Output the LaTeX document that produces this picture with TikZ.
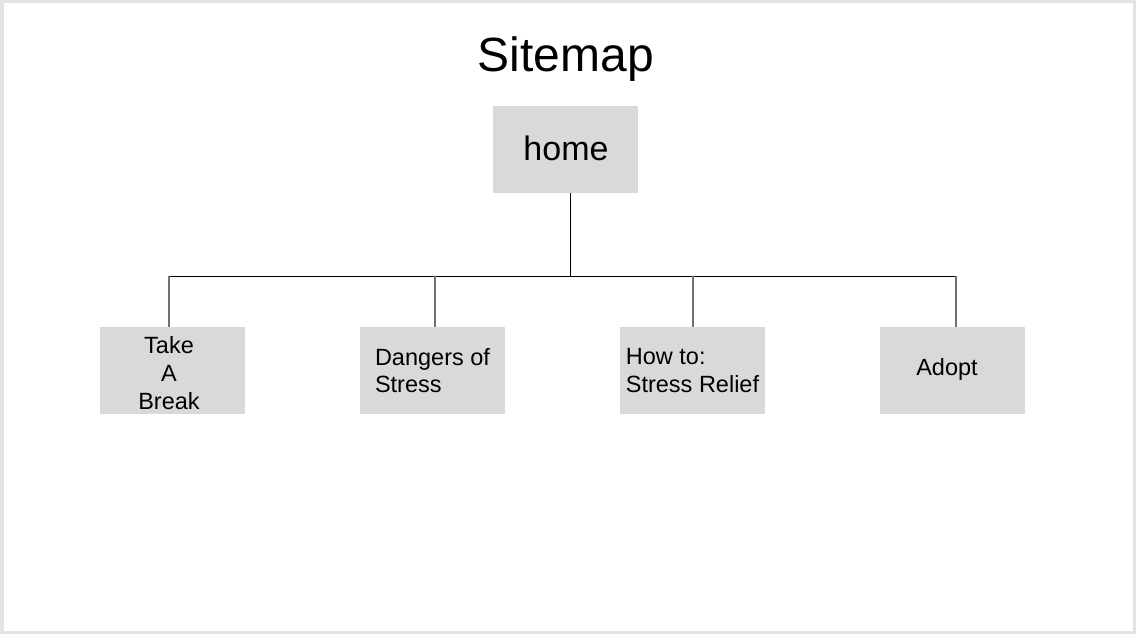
\documentclass[tikz,border=0pt]{standalone}
\usepackage{fontspec}
\setmainfont{Liberation Sans}
\definecolor{frame}{HTML}{E3E3E3}
\definecolor{boxfill}{HTML}{D9D9D9}
\definecolor{drop}{HTML}{707070}
\begin{document}
\begin{tikzpicture}[x=1pt,y=-1pt,
  page/.style={inner sep=0pt,minimum width=145pt,minimum height=87pt,fill=boxfill,
    font=\fontsize{23.5}{27.5}\selectfont},
  label/.style={inner sep=0pt,font=\fontsize{23.5}{28}\selectfont},
  busline/.style={draw=black,line width=1pt},
  dropline/.style={draw=drop,line width=1.4pt}]
\useasboundingbox (0,0) rectangle (1136,634);
\fill[frame] (0,0) rectangle (1136,634);
\fill[white] (4,3) rectangle (1133,631);
\node[inner sep=0pt,font=\fontsize{48}{56}\selectfont,anchor=base] (title) at (566,71.5) {Sitemap};
\node[inner sep=0pt,minimum width=145pt,minimum height=87pt,fill=boxfill] (home) at (565.5,149.5) {};
\node[inner sep=0pt,font=\fontsize{34}{40}\selectfont,anchor=base] (homet) at (566,160) {home};
\node[page] (c1) at (172.5,370.5) {};
\node[label,align=center,anchor=north] (c1t) at (169,336.5) {Take\\A\\Break};
\node[page,align=left] (c2) at (432.5,370.5) {Dangers of\\Stress};
\node[page,align=left] (c3) at (692.5,370.5) {How to:\\Stress Relief};
\node[page] (c4) at (952.5,370.5) {};
\node[label,anchor=base] (c4t) at (947,375) {Adopt};
\coordinate (bus) at (0,276);
\draw[busline] ([xshift=4.5pt]home.south) -- ([xshift=4.5pt]home.south |- bus);
\draw[busline] ([xshift=-3.5pt]c1.north |- bus) -- ([xshift=3.5pt]c4.north |- bus);
\draw[dropline] ([xshift=-3.5pt]c1.north |- bus) -- ([xshift=-3.5pt]c1.north);
\draw[dropline] ([xshift=2.5pt]c2.north |- bus) -- ([xshift=2.5pt]c2.north);
\draw[dropline] ([xshift=0.5pt]c3.north |- bus) -- ([xshift=0.5pt]c3.north);
\draw[dropline] ([xshift=3.5pt]c4.north |- bus) -- ([xshift=3.5pt]c4.north);
\end{tikzpicture}
\end{document}
